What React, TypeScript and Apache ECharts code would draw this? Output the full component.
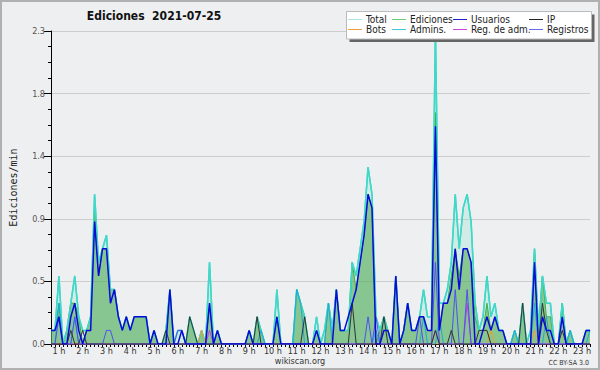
import React, { useEffect, useRef } from "react";
import * as echarts from "echarts";

// 10-minute slots; slot 0 = 00:40, slot 2 = 01:00 ... slot 136 = 23:20
const hourLabels = [
  "1 h", "2 h", "3 h", "4 h", "5 h", "6 h", "7 h", "8 h", "9 h", "10 h", "11 h", "12 h",
  "13 h", "14 h", "15 h", "16 h", "17 h", "18 h", "19 h", "20 h", "21 h", "22 h", "23 h",
];
const FIRST_HOUR_SLOT = 2;
const SLOTS_PER_HOUR = 6;

const total = [
  0.1, 0.1, 0.5, 0, 0.1, 0.3, 0.5, 0.2, 0.1, 0.1, 0.2, 1.1,
  0.6, 0.7, 0.8, 0.4, 0.4, 0.2, 0.1, 0.2, 0.1, 0.2, 0.2, 0.2,
  0.2, 0, 0.1, 0, 0, 0.1, 0.4, 0, 0.1, 0.1, 0, 0.2,
  0.1, 0, 0.1, 0, 0.6, 0, 0.1, 0, 0, 0, 0, 0,
  0, 0, 0.1, 0, 0.2, 0.1, 0, 0, 0, 0.4, 0, 0,
  0, 0, 0.4, 0.3, 0.2, 0, 0, 0.2, 0, 0.1, 0.3, 0.1,
  0.4, 0.1, 0.1, 0.1, 0.6, 0.5, 0.7, 0.9, 1.3, 1.1, 0.2, 0.1,
  0.2, 0.1, 0, 0.5, 0, 0.1, 0.3, 0.1, 0.1, 0.2, 0.4, 0.2,
  0.2, 2.3, 0.3, 0.3, 0.4, 0.6, 1.1, 0.7, 1.0, 1.1, 0.9, 0.3,
  0.1, 0.2, 0.5, 0.2, 0.3, 0.1, 0.1, 0, 0, 0.1, 0, 0.3,
  0, 0.1, 0.7, 0.1, 0.5, 0.3, 0.3, 0, 0, 0.3, 0, 0.1,
  0, 0, 0, 0.1, 0.1,
];

const ediciones = [
  0.1, 0.1, 0.3, 0, 0.1, 0.3, 0.3, 0.2, 0, 0.1, 0.2, 1.0,
  0.5, 0.7, 0.7, 0.4, 0.4, 0.2, 0.1, 0.2, 0.1, 0.2, 0.2, 0.2,
  0.2, 0, 0.1, 0, 0, 0.1, 0.4, 0, 0, 0, 0, 0.2,
  0.1, 0, 0.1, 0, 0.3, 0, 0.1, 0, 0, 0, 0, 0,
  0, 0, 0.1, 0, 0.2, 0.1, 0, 0, 0, 0.2, 0, 0,
  0, 0, 0.4, 0.3, 0.2, 0, 0, 0.1, 0, 0, 0.3, 0.1,
  0.4, 0.1, 0.1, 0.1, 0.6, 0.4, 0.6, 0.8, 1.1, 1.0, 0, 0.1,
  0.2, 0.1, 0, 0.5, 0, 0.1, 0.3, 0.1, 0.1, 0.2, 0.2, 0.1,
  0.1, 1.7, 0.1, 0.3, 0.3, 0.5, 0.7, 0.5, 0.7, 0.7, 0.6, 0.2,
  0.1, 0.1, 0.3, 0.1, 0.2, 0.1, 0.1, 0, 0, 0.1, 0, 0.3,
  0, 0, 0.7, 0.1, 0.5, 0.2, 0.2, 0, 0, 0.3, 0, 0.1,
  0, 0, 0, 0.1, 0.1,
];

const usuarios = [
  0.1, 0.1, 0.2, 0, 0, 0.2, 0.3, 0.1, 0, 0.1, 0.1, 0.9,
  0.5, 0.7, 0.7, 0.3, 0.4, 0.2, 0.1, 0.2, 0.1, 0.2, 0.2, 0.2,
  0.2, 0, 0.1, 0, 0, 0, 0.4, 0, 0, 0.1, 0, 0,
  0, 0, 0, 0, 0.3, 0, 0.1, 0, 0, 0, 0, 0,
  0, 0, 0.1, 0, 0, 0, 0, 0, 0, 0.2, 0, 0,
  0, 0, 0, 0, 0, 0, 0, 0.1, 0, 0, 0, 0,
  0.4, 0.1, 0.1, 0.2, 0.3, 0.4, 0.6, 0.8, 1.1, 1.0, 0, 0,
  0.1, 0.1, 0, 0.5, 0, 0.1, 0.3, 0.1, 0.1, 0.2, 0.2, 0.1,
  0.1, 1.6, 0.1, 0.3, 0.3, 0.4, 0.7, 0.4, 0.7, 0.7, 0.6, 0,
  0, 0.1, 0.2, 0.1, 0.2, 0.1, 0.1, 0, 0, 0, 0, 0,
  0, 0, 0.6, 0, 0.2, 0.1, 0.1, 0, 0, 0.2, 0, 0,
  0, 0, 0, 0.1, 0.1,
];

const ip = [
  0, 0, 0, 0, 0, 0.1, 0, 0, 0.1, 0, 0, 0,
  0, 0, 0, 0, 0, 0, 0, 0, 0, 0, 0, 0,
  0, 0, 0, 0, 0, 0.1, 0, 0, 0, 0, 0, 0.2,
  0.1, 0, 0, 0, 0, 0, 0, 0, 0, 0, 0, 0,
  0, 0, 0, 0, 0.2, 0, 0, 0, 0, 0, 0, 0,
  0, 0, 0, 0, 0.2, 0, 0, 0, 0, 0, 0, 0,
  0, 0, 0, 0, 0.3, 0, 0, 0, 0, 0, 0, 0,
  0.2, 0, 0, 0, 0, 0, 0, 0, 0, 0, 0, 0,
  0, 0.1, 0, 0, 0, 0.1, 0, 0, 0, 0, 0, 0,
  0.1, 0.1, 0.1, 0, 0, 0, 0, 0, 0, 0, 0, 0.3,
  0, 0, 0, 0, 0.3, 0.1, 0, 0, 0, 0.1, 0, 0,
  0, 0, 0, 0, 0,
];

const bots = [
  0, 0, 0, 0, 0, 0, 0, 0, 0, 0, 0, 0,
  0, 0, 0, 0, 0, 0, 0, 0, 0, 0, 0, 0,
  0, 0, 0, 0, 0, 0, 0, 0, 0, 0, 0, 0,
  0, 0, 0.1, 0, 0, 0, 0, 0, 0, 0, 0, 0,
  0, 0, 0, 0, 0, 0, 0, 0, 0, 0, 0, 0,
  0, 0, 0, 0, 0, 0, 0, 0, 0, 0, 0, 0,
  0, 0, 0, 0, 0, 0, 0, 0, 0, 0, 0, 0,
  0, 0, 0, 0, 0, 0, 0, 0, 0, 0, 0, 0,
  0, 0, 0, 0, 0, 0, 0, 0, 0, 0, 0, 0,
  0, 0, 0, 0.1, 0, 0, 0, 0, 0, 0, 0, 0,
  0, 0, 0.1, 0, 0, 0, 0, 0, 0, 0, 0, 0,
  0, 0, 0, 0, 0,
];

const admins = [
  0, 0, 0.3, 0, 0, 0, 0.2, 0, 0, 0, 0, 0,
  0, 0, 0, 0, 0, 0, 0, 0, 0, 0, 0, 0,
  0, 0, 0, 0, 0, 0, 0, 0, 0, 0, 0, 0,
  0, 0, 0, 0, 0, 0, 0, 0, 0, 0, 0, 0,
  0, 0, 0, 0, 0, 0.1, 0, 0, 0, 0, 0, 0,
  0, 0, 0.4, 0.3, 0, 0, 0, 0.1, 0, 0, 0.3, 0,
  0, 0, 0, 0, 0, 0, 0, 0, 0, 0, 0.1, 0,
  0, 0, 0, 0, 0, 0, 0, 0, 0, 0, 0.2, 0,
  0, 0, 0.2, 0, 0, 0, 0, 0, 0, 0, 0, 0,
  0, 0, 0, 0, 0, 0, 0, 0, 0, 0.1, 0, 0,
  0, 0, 0.3, 0, 0, 0.2, 0, 0, 0, 0, 0, 0.1,
  0, 0, 0, 0, 0.1,
];

const regAdm = [
  0, 0, 0, 0, 0, 0, 0, 0, 0, 0, 0, 0,
  0, 0, 0, 0, 0, 0, 0, 0, 0, 0, 0, 0,
  0, 0, 0, 0, 0, 0, 0, 0, 0, 0, 0, 0,
  0, 0, 0, 0, 0.1, 0, 0, 0, 0, 0, 0, 0,
  0, 0, 0, 0, 0, 0, 0, 0, 0, 0, 0, 0,
  0, 0, 0, 0, 0, 0, 0, 0, 0, 0, 0, 0,
  0, 0, 0, 0, 0, 0, 0, 0, 0, 0, 0, 0,
  0, 0, 0, 0, 0, 0, 0, 0, 0, 0, 0, 0,
  0, 0.1, 0, 0, 0, 0, 0, 0, 0, 0.3, 0, 0,
  0, 0, 0, 0, 0, 0, 0, 0, 0, 0, 0, 0,
  0, 0, 0, 0, 0, 0, 0, 0, 0, 0, 0, 0,
  0, 0, 0, 0, 0,
];

const registros = [
  0, 0, 0.2, 0, 0, 0, 0.2, 0, 0, 0, 0, 0,
  0, 0, 0.1, 0.1, 0, 0, 0, 0, 0, 0, 0, 0,
  0, 0, 0, 0, 0, 0, 0, 0, 0.1, 0.1, 0, 0,
  0, 0, 0, 0, 0, 0, 0, 0, 0, 0, 0, 0,
  0, 0, 0, 0, 0, 0, 0, 0, 0, 0, 0, 0,
  0, 0, 0, 0, 0, 0, 0, 0, 0, 0, 0, 0,
  0, 0, 0, 0, 0, 0, 0, 0, 0.2, 0, 0.2, 0,
  0, 0, 0, 0, 0, 0, 0, 0, 0, 0.2, 0, 0,
  0, 0.6, 0, 0, 0, 0, 0.4, 0, 0, 0.4, 0, 0,
  0, 0, 0, 0, 0, 0, 0, 0, 0, 0, 0, 0,
  0, 0, 0, 0, 0, 0, 0, 0, 0, 0, 0, 0,
  0, 0, 0, 0, 0,
];

const legendItems = [
  { name: "Total", color: "#a8e6e0", col: 0, row: 0 },
  { name: "Ediciones", color: "#70cc70", col: 1, row: 0 },
  { name: "Usuarios", color: "#2222cc", col: 2, row: 0 },
  { name: "IP", color: "#222222", col: 3, row: 0 },
  { name: "Bots", color: "#f0a040", col: 0, row: 1 },
  { name: "Admins.", color: "#40c8d8", col: 1, row: 1 },
  { name: "Reg. de adm.", color: "#cc44dd", col: 2, row: 1 },
  { name: "Registros", color: "#6a6af0", col: 3, row: 1 },
];

const FONT = "'DejaVu Sans Condensed', 'DejaVu Sans', sans-serif";

export default function App() {
  const ref = useRef<HTMLDivElement>(null);

  useEffect(() => {
    if (!ref.current) return;
    const chart = echarts.init(ref.current, null, { renderer: "svg" });
    const slots = total.map((_, i) => String(i));

    const lineSeries = (name: string, data: number[], color: string, width: number, z: number, area?: string) => ({
      name,
      type: "line",
      data,
      symbol: "none",
      z,
      lineStyle: { color, width },
      itemStyle: { color },
      areaStyle: area ? { color: area, opacity: 1 } : undefined,
      emphasis: { disabled: true },
    });

    const colX = [348, 392, 453, 529];
    const rowY = [19.5, 29.5];
    const legendGraphics: any[] = [];
    legendItems.forEach((it) => {
      const x = colX[it.col];
      const y = rowY[it.row];
      legendGraphics.push({
        type: "line",
        z: 102,
        shape: { x1: x, y1: y, x2: x + 14, y2: y },
        style: { stroke: it.color, lineWidth: 1 },
      });
      legendGraphics.push({
        type: "text",
        z: 102,
        x: x + 18,
        y,
        style: { text: it.name, fill: "#222", font: `10px ${FONT}`, textAlign: "left", textVerticalAlign: "middle" },
      });
    });

    chart.setOption({
      animation: false,
      backgroundColor: "#eeeff1",
      grid: { left: 46, top: 31, right: 10, bottom: 26 },
      xAxis: {
        type: "category",
        data: slots,
        boundaryGap: false,
        axisLine: { lineStyle: { color: "#000", width: 1 } },
        axisTick: { show: true, interval: 0, length: 3, lineStyle: { color: "#000" } },
        axisLabel: {
          interval: (index: number) => index >= FIRST_HOUR_SLOT && (index - FIRST_HOUR_SLOT) % SLOTS_PER_HOUR === 0,
          formatter: (_v: string, index: number) => hourLabels[(index - FIRST_HOUR_SLOT) / SLOTS_PER_HOUR] || "",
          fontSize: 9,
          fontFamily: FONT,
          color: "#333",
          margin: 2,
        },
        splitLine: { show: false },
      },
      yAxis: {
        type: "value",
        min: 0,
        max: 2.3,
        interval: 0.46,
        name: "Ediciones/min",
        nameLocation: "middle",
        nameGap: 33,
        nameTextStyle: { fontFamily: "'DejaVu Sans Mono', monospace", fontSize: 10, color: "#222" },
        axisLine: { show: true, lineStyle: { color: "#000", width: 1 } },
        axisTick: { show: true, length: 7, lineStyle: { color: "#000" } },
        minorTick: { show: true, splitNumber: 4, length: 3, lineStyle: { color: "#000" } },
        axisLabel: {
          formatter: (v: number) => v.toFixed(1),
          fontSize: 9,
          fontFamily: FONT,
          color: "#555",
          margin: 6,
        },
        splitLine: { show: true, lineStyle: { color: "#cdcdcd", width: 1 } },
      },
      series: [
        lineSeries("Total", total, "#40d8c8", 1.5, 1, "rgba(150,225,205,0.3)"),
        lineSeries("Ediciones", ediciones, "#40b040", 1, 2, "rgba(60,160,60,0.5)"),
        lineSeries("Total ", total, "#40d8c8", 1.5, 3),
        lineSeries("Bots", bots, "#f0a030", 1, 4),
        lineSeries("Admins.", admins, "#20a8d8", 1, 5),
        lineSeries("Reg. de adm.", regAdm, "#c040e0", 1, 6),
        lineSeries("Registros", registros, "#5050f0", 1, 7),
        lineSeries("IP", ip, "#333333", 1, 8),
        lineSeries("Usuarios", usuarios, "#0a0ad8", 1.5, 9),
      ],
      graphic: [
        {
          type: "rect",
          z: 100,
          shape: { x: 1, y: 1, width: 598, height: 368 },
          style: { fill: "none", stroke: "#b0b0b0", lineWidth: 2 },
          silent: true,
        },
        {
          type: "text",
          z: 100,
          x: 154,
          y: 16,
          style: { text: "Ediciones  2021-07-25", fill: "#111", font: `bold 12px ${FONT}`, textAlign: "center", textVerticalAlign: "middle" },
        },
        {
          type: "rect",
          z: 100,
          shape: { x: 349.5, y: 14.5, width: 245, height: 27.5 },
          style: { fill: "#666", stroke: "none" },
        },
        {
          type: "rect",
          z: 101,
          shape: { x: 346.5, y: 11.5, width: 245, height: 27.5 },
          style: { fill: "#ffffff", stroke: "#bbbbbb", lineWidth: 1 },
        },
        ...legendGraphics,
        {
          type: "text",
          z: 100,
          x: 300,
          y: 361,
          style: { text: "wikiscan.org", fill: "#333", font: `9px ${FONT}`, textAlign: "center", textVerticalAlign: "middle" },
        },
        {
          type: "text",
          z: 100,
          x: 589,
          y: 363,
          style: { text: "CC BY-SA 3.0", fill: "#333", font: `7px ${FONT}`, textAlign: "right", textVerticalAlign: "middle" },
        },
      ],
    });

    return () => chart.dispose();
  }, []);

  return <div ref={ref} style={{ position: "absolute", left: 0, top: 0, width: 600, height: 370 }} />;
}
